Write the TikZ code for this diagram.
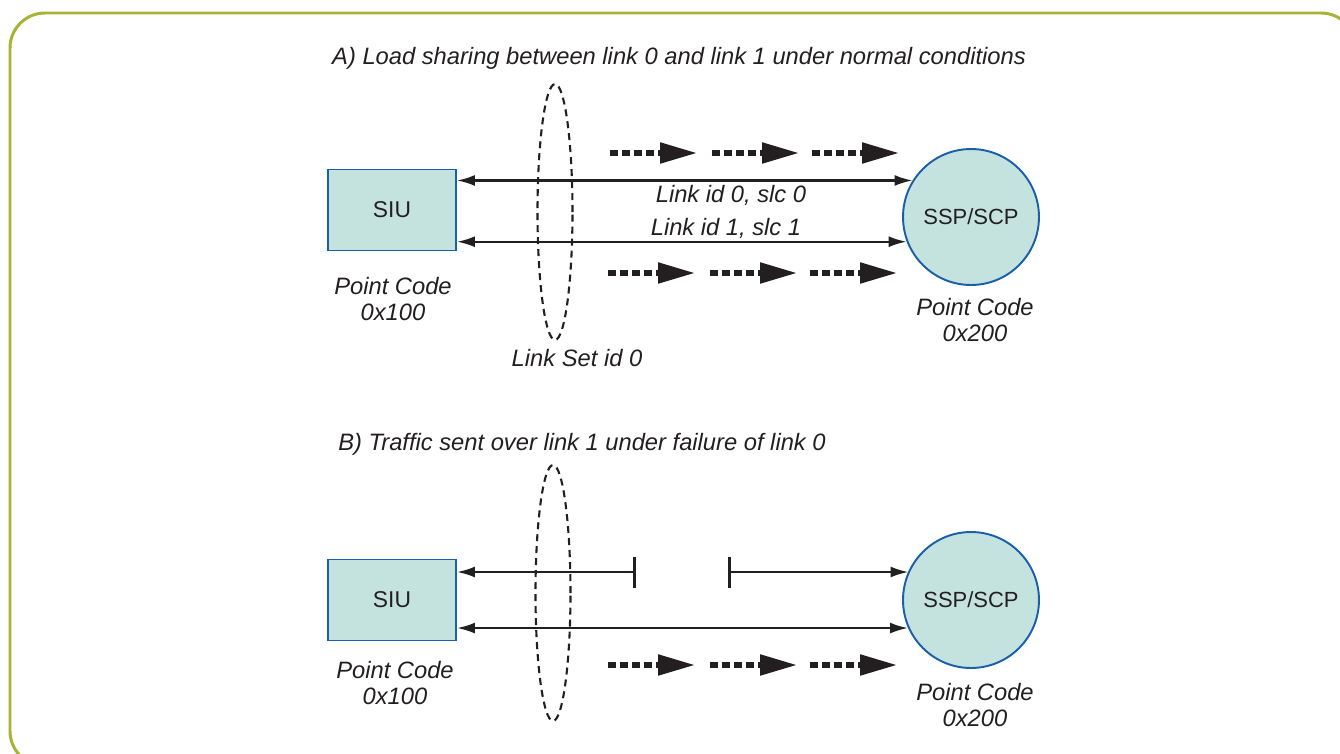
\documentclass[tikz,border=0pt]{standalone}
\usepackage{fontspec}
\setmainfont{Liberation Sans}
\usetikzlibrary{arrows.meta,positioning,shapes.geometric}

\definecolor{framegreen}{RGB}{168,178,52}
\definecolor{boxfill}{RGB}{196,226,222}
\definecolor{boxline}{RGB}{25,95,170}
\definecolor{inkgray}{RGB}{35,31,32}

\begin{document}
\begin{tikzpicture}[
    x=0.02cm, y=-0.02cm,
    >={Latex[length=0.36cm,width=0.22cm]},
    every node/.style={text=inkgray},
    siu/.style={rectangle, draw=boxline, fill=boxfill, line width=1.1pt, minimum width=2.56cm, minimum height=1.62cm, font=\fontsize{13}{15}\selectfont},
    ssp/.style={circle, draw=boxline, fill=boxfill, line width=1.1pt, minimum size=2.72cm, inner sep=0pt, font=\fontsize{12.5}{15}\selectfont},
    caption/.style={font=\fontsize{13.5}{15}\selectfont\itshape, align=center},
    linkset/.style={ellipse, draw=inkgray, line width=1.2pt, dash pattern=on 0.14cm off 0.1cm, minimum width=0.7cm, minimum height=5.12cm, inner sep=0pt},
    link/.style={<->, draw=inkgray, line width=1.3pt},
    cut/.style={{Bar[width=0.62cm,line width=1.6pt]}->},
    flow/.style={-{Triangle[length=0.74cm,width=0.4cm]}, draw=inkgray, line width=3pt, dash pattern=on 0.16cm off 0.08cm}
]
\useasboundingbox (0,0) rectangle (1340,754);
\clip (0,0) rectangle (1340,754);

% Frame
\draw[framegreen, line width=1.7pt, rounded corners=0.7cm] (10,13) rectangle (1356,766);

% Part A: load sharing
\node[caption] (titleA) at (679,58) {A) Load sharing between link 0 and link 1 under normal conditions};
\node[linkset] (LSa) at (555,212) {};
\node[siu] (SIUa) at (392,210) {SIU};
\node[ssp] (SSPa) at (971,217) {SSP/SCP};
\node[caption] (pcSIUa) at (393,299) {Point Code\\0x100};
\node[caption] (pcSSPa) at (975,320) {Point Code\\0x200};
\node[caption] (lsA) at (577,358) {Link Set id 0};
\node[caption] (link0) at (731,195) {Link id 0, slc 0};
\node[caption] (link1) at (726,228) {Link id 1, slc 1};

\draw[link] (SIUa.east |- SSPa.148) -- (SSPa.148);
\draw[link] (SIUa.east |- SSPa.201.5) -- (SSPa.201.5);

\foreach \x/\i in {610/1,712/2,812/3} {
    \coordinate (fa\i) at (\x,153);
    \coordinate (fb\i) at (\x-2,273);
    \draw[flow] (fa\i) -- ++(87,0);
    \draw[flow] (fb\i) -- ++(87,0);
}

% Part B: failure of link 0
\node[caption] (titleB) at (582,444) {B) Traffic sent over link 1 under failure of link 0};
\node[linkset] (LSb) at (553,593) {};
\node[siu] (SIUb) at (392,600) {SIU};
\node[ssp] (SSPb) at (971,600) {SSP/SCP};
\node[caption] (pcSIUb) at (395,683) {Point Code\\0x100};
\node[caption] (pcSSPb) at (975,705) {Point Code\\0x200};

\coordinate (cutL) at (636,572);
\coordinate (cutR) at (728,572);
\draw[link, cut] (cutL) -- (SIUb.east |- cutL);
\draw[link, cut] (cutR) -- (cutR -| SSPb.155.7);
\draw[link] (SIUb.east |- SSPb.204.3) -- (SSPb.204.3);

\foreach \x/\i in {608/1,710/2,810/3} {
    \coordinate (fc\i) at (\x,665);
    \draw[flow] (fc\i) -- ++(87,0);
}
\end{tikzpicture}
\end{document}
